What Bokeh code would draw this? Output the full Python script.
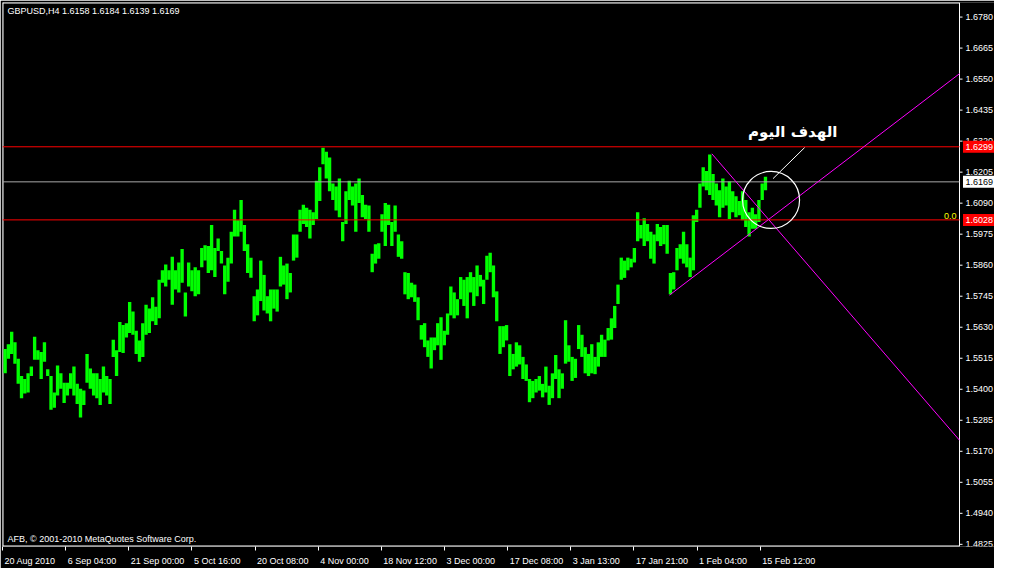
from bokeh.plotting import figure
from bokeh.models import FixedTicker, Label
from bokeh.core.properties import value
from bokeh.embed import file_html
from bokeh.resources import INLINE
import numpy as np

# ---------------- data ----------------
symbol = "GBPUSD,H4"
last_ohlc = [1.6158, 1.6184, 1.6139, 1.6169]
copyright_text = "AFB, \u00a9 2001-2010 MetaQuotes Software Corp."

# aggregated H4 bars (each ~3 H4 bars): highs and lows
highs = [
    1.5549, 1.5567, 1.5613, 1.5574, 1.5513, 1.5449, 1.5438, 1.5459, 1.5484, 1.5595,
    1.5545, 1.5538, 1.5574, 1.5474, 1.5449, 1.5388, 1.5488, 1.5459, 1.5424, 1.5424,
    1.5459, 1.5484, 1.5420, 1.5402, 1.5395, 1.5531, 1.5477, 1.5459, 1.5459, 1.5438,
    1.5484, 1.5449, 1.5438, 1.5584, 1.5545, 1.5649, 1.5638, 1.5645, 1.5724, 1.5688,
    1.5617, 1.5581, 1.5645, 1.5713, 1.5699, 1.5741, 1.5706, 1.5806, 1.5841, 1.5863,
    1.5841, 1.5891, 1.5841, 1.5870, 1.5920, 1.5759, 1.5870, 1.5841, 1.5852, 1.5841,
    1.5924, 1.5934, 1.5931, 1.6009, 1.5924, 1.5959, 1.5913, 1.5859, 1.5888, 1.5984,
    1.6066, 1.6027, 1.6102, 1.6009, 1.5938, 1.5888, 1.5745, 1.5770, 1.5877, 1.5824,
    1.5745, 1.5770, 1.5770, 1.5770, 1.5891, 1.5859, 1.5866, 1.5831, 1.5974, 1.5974,
    1.6066, 1.6084, 1.6073, 1.6066, 1.6056, 1.6173, 1.6223, 1.6295, 1.6281, 1.6259,
    1.6163, 1.6152, 1.6181, 1.6020, 1.6134, 1.6173, 1.6152, 1.6163, 1.6181, 1.6120,
    1.6084, 1.6081, 1.5902, 1.5938, 1.5941, 1.6049, 1.6091, 1.6084, 1.6020, 1.6081,
    1.5974, 1.5949, 1.5834, 1.5831, 1.5795, 1.5788, 1.5741, 1.5638, 1.5645, 1.5581,
    1.5592, 1.5592, 1.5645, 1.5667, 1.5617, 1.5681, 1.5781, 1.5759, 1.5734, 1.5816,
    1.5806, 1.5816, 1.5834, 1.5816, 1.5859, 1.5824, 1.5806, 1.5895, 1.5906, 1.5859,
    1.5763, 1.5634, 1.5634, 1.5638, 1.5567, 1.5531, 1.5574, 1.5563, 1.5520, 1.5492,
    1.5438, 1.5431, 1.5438, 1.5449, 1.5420, 1.5484, 1.5413, 1.5459, 1.5527, 1.5474,
    1.5459, 1.5656, 1.5563, 1.5520, 1.5513, 1.5638, 1.5602, 1.5556, 1.5531, 1.5567,
    1.5520, 1.5574, 1.5602, 1.5584, 1.5627, 1.5663, 1.5709, 1.5788, 1.5888, 1.5877,
    1.5888, 1.5884, 1.5924, 1.6056, 1.6009, 1.6034, 1.6013, 1.5984, 1.5974, 1.6013,
    1.6002, 1.6009, 1.6009, 1.5831, 1.5834, 1.5924, 1.5938, 1.5984, 1.5938, 1.5888,
    1.6045, 1.6066, 1.6163, 1.6223, 1.6209, 1.6270, 1.6198, 1.6163, 1.6138, 1.6181,
    1.6152, 1.6170, 1.6134, 1.6116, 1.6098, 1.6134, 1.6102, 1.6056, 1.6073, 1.6049,
    1.6102, 1.6163, 1.6188,
]
lows = [
    1.5459, 1.5513, 1.5531, 1.5495, 1.5420, 1.5367, 1.5384, 1.5388, 1.5449, 1.5509,
    1.5509, 1.5438, 1.5502, 1.5449, 1.5324, 1.5331, 1.5377, 1.5402, 1.5349, 1.5377,
    1.5402, 1.5377, 1.5345, 1.5295, 1.5342, 1.5424, 1.5402, 1.5377, 1.5367, 1.5342,
    1.5388, 1.5377, 1.5345, 1.5520, 1.5449, 1.5538, 1.5534, 1.5592, 1.5609, 1.5602,
    1.5531, 1.5502, 1.5520, 1.5602, 1.5609, 1.5652, 1.5638, 1.5663, 1.5795, 1.5781,
    1.5806, 1.5713, 1.5770, 1.5759, 1.5795, 1.5670, 1.5781, 1.5763, 1.5745, 1.5752,
    1.5852, 1.5877, 1.5831, 1.5841, 1.5816, 1.5913, 1.5866, 1.5752, 1.5799, 1.5866,
    1.5966, 1.5966, 1.5984, 1.5913, 1.5831, 1.5813, 1.5652, 1.5674, 1.5727, 1.5692,
    1.5681, 1.5652, 1.5699, 1.5688, 1.5781, 1.5788, 1.5734, 1.5759, 1.5877, 1.5888,
    1.5984, 1.6013, 1.6002, 1.5959, 1.6009, 1.6031, 1.6098, 1.6234, 1.6181, 1.6134,
    1.6102, 1.6063, 1.6038, 1.5949, 1.6013, 1.6102, 1.6081, 1.5984, 1.6091, 1.6038,
    1.6031, 1.5984, 1.5834, 1.5866, 1.5884, 1.5984, 1.5931, 1.6009, 1.5931, 1.5984,
    1.5891, 1.5884, 1.5752, 1.5734, 1.5741, 1.5724, 1.5656, 1.5584, 1.5556, 1.5520,
    1.5477, 1.5545, 1.5563, 1.5509, 1.5563, 1.5602, 1.5674, 1.5663, 1.5674, 1.5734,
    1.5709, 1.5663, 1.5759, 1.5709, 1.5745, 1.5781, 1.5716, 1.5806, 1.5834, 1.5741,
    1.5652, 1.5531, 1.5556, 1.5581, 1.5449, 1.5474, 1.5484, 1.5492, 1.5438, 1.5431,
    1.5352, 1.5367, 1.5388, 1.5395, 1.5370, 1.5388, 1.5342, 1.5367, 1.5438, 1.5367,
    1.5402, 1.5495, 1.5502, 1.5431, 1.5442, 1.5549, 1.5520, 1.5459, 1.5449, 1.5459,
    1.5456, 1.5484, 1.5520, 1.5520, 1.5581, 1.5584, 1.5627, 1.5716, 1.5806, 1.5813,
    1.5841, 1.5852, 1.5870, 1.5949, 1.5959, 1.5931, 1.5949, 1.5884, 1.5866, 1.5949,
    1.5931, 1.5938, 1.5902, 1.5752, 1.5770, 1.5841, 1.5884, 1.5866, 1.5852, 1.5816,
    1.5841, 1.6020, 1.6073, 1.6152, 1.6138, 1.6120, 1.6102, 1.6081, 1.6038, 1.6073,
    1.6081, 1.6031, 1.6056, 1.6038, 1.6045, 1.6027, 1.6002, 1.5966, 1.5995, 1.5995,
    1.6020, 1.6102, 1.6138,
]
first_bar, last_bar = 1, 775          # H4 bar index span of the data
chart_bars = 970                      # bars shown across the chart window (incl. shift)

date_labels = ["20 Aug 2010", "6 Sep 04:00", "21 Sep 00:00", "5 Oct 16:00",
               "20 Oct 08:00", "4 Nov 00:00", "18 Nov 12:00", "3 Dec 00:00",
               "17 Dec 08:00", "3 Jan 13:00", "17 Jan 21:00", "1 Feb 04:00",
               "15 Feb 12:00"]
date_label_bars = [0, 64, 128, 192, 256, 320, 384, 448, 512, 576, 640, 704, 768]

price_ticks = [1.4825, 1.4940, 1.5055, 1.5170, 1.5285, 1.5400, 1.5515, 1.5630,
               1.5745, 1.5860, 1.5975, 1.6090, 1.6205, 1.6320, 1.6435, 1.6550,
               1.6665, 1.6780]
price_min, price_max = 1.4817, 1.6834

resistance = 1.6299
support = 1.6028
bid = 1.6169
fib_label = "0.0"

trend_up_bars = [676, 970]
trend_up_prices = [1.5749, 1.6570]
trend_down_bars = [719, 970]
trend_down_prices = [1.6273, 1.5211]
target_bar, target_price = 779, 1.6102
pointer_bars = [781, 813]
pointer_prices = [1.6181, 1.6296]
note_text = "\u0627\u0644\u0647\u062f\u0641 \u0627\u0644\u064a\u0648\u0645"
note_bar, note_price = 801, 1.6354

# ---------------- figure ----------------
W, H = 994, 568
BL, BT = 2, 2
AXIS_PX = 35                         # width of the price scale strip
FONT = "Liberation Sans"
GREEN, RED, MAGENTA, BIDGREY = "#00FF00", "#FF0000", "#FF00FF", "#A8A8A8"

frame_w = W - BL
chart_px = frame_w - AXIS_PX
bpp = chart_bars / chart_px          # bars per screen pixel
x_end = frame_w * bpp

p = figure(width=W, height=H, output_backend="svg", toolbar_location=None,
           x_range=(0, x_end), y_range=(price_min, price_max),
           min_border_left=BL, min_border_top=BT, min_border_right=0,
           min_border_bottom=17,
           background_fill_color="black", border_fill_color="black")
p.xgrid.visible = False
p.ygrid.visible = False
p.yaxis.visible = False
p.outline_line_color = None

# chart frame (left, top, bottom) and price-scale line
p.segment(x0=[0, 0, 0], y0=[price_min, price_max, price_min],
          x1=[0, chart_bars, chart_bars], y1=[price_max, price_max, price_min],
          line_color="white", line_width=2)
p.segment(x0=[chart_bars], y0=[price_min], x1=[chart_bars], y1=[price_max],
          line_color="white", line_width=1)

# bars
n = len(highs)
step = (last_bar - first_bar) / n
xs = first_bar + step * (np.arange(n) + 0.5)
p.vbar(x=xs, top=highs, bottom=lows, width=step * 1.02,
       fill_color=GREEN, line_color=None)

# horizontal levels (stop at the price scale)
p.segment(x0=[0, 0], y0=[resistance, support], x1=[chart_bars, chart_bars],
          y1=[resistance, support], line_color=RED, line_width=1)
p.segment(x0=[0], y0=[bid], x1=[chart_bars], y1=[bid], line_color=BIDGREY, line_width=1)

# trend lines
p.line(trend_up_bars, trend_up_prices, line_color=MAGENTA, line_width=1)
p.line(trend_down_bars, trend_down_prices, line_color=MAGENTA, line_width=1)

# target circle and pointer
p.scatter([target_bar], [target_price], marker="circle", size=57,
          fill_color=None, line_color="white", line_width=1.2)
p.line(pointer_bars, pointer_prices, line_color="white", line_width=1)
p.text(x=[note_bar], y=[note_price], text=[note_text],
       text_align="center", text_baseline="middle",
       text_font=value("DejaVu Sans"), text_font_style="bold",
       text_font_size=value("15px"), text_color="white")

# price scale: ticks and labels
p.segment(x0=[chart_bars] * len(price_ticks), y0=price_ticks,
          x1=[chart_bars + 3 * bpp] * len(price_ticks), y1=price_ticks,
          line_color="white", line_width=1)
p.text(x=[chart_bars + 6 * bpp] * len(price_ticks), y=price_ticks,
       text=["%.4f" % v for v in price_ticks],
       text_align="left", text_baseline="middle",
       text_font=value(FONT), text_font_size=value("9px"), text_color="white")

# price boxes on the scale
box_vals = [resistance, support, bid]
box_bg = [RED, RED, "white"]
box_fg = ["white", "white", "black"]
p.rect(x=[chart_bars + 20 * bpp] * 3, y=box_vals, width=33, height=12,
       width_units="screen", height_units="screen",
       fill_color=box_bg, line_color=None)
p.text(x=[chart_bars + 6 * bpp] * 3, y=box_vals, text=["%.4f" % v for v in box_vals],
       text_align="left", text_baseline="middle",
       text_font=value(FONT), text_font_size=value("9px"), text_color=box_fg)

# bottom (time) axis: labels left-aligned at the tick marks
char_w = {" ": 0.278, ":": 0.278, "A": 0.667, "u": 0.556, "g": 0.556, "S": 0.667,
          "e": 0.556, "p": 0.556, "O": 0.778, "c": 0.5, "t": 0.278, "N": 0.722,
          "o": 0.556, "v": 0.5, "D": 0.722, "J": 0.5, "a": 0.556, "n": 0.556,
          "F": 0.611, "b": 0.556}
centers = []
for b, lab in zip(date_label_bars, date_labels):
    wpx = sum(char_w.get(c, 0.556) for c in lab) * 9
    centers.append(b + (wpx / 2 + 2) * bpp)
xax = p.xaxis[0]
xax.ticker = FixedTicker(ticks=centers, minor_ticks=date_label_bars)
xax.major_label_overrides = {c: lab for c, lab in zip(centers, date_labels)}
xax.axis_line_color = None
xax.major_tick_line_color = None
xax.minor_tick_line_color = "white"
xax.minor_tick_in = 0
xax.minor_tick_out = 4
xax.major_label_text_color = "white"
xax.major_label_text_font = FONT
xax.major_label_text_font_size = "9px"
xax.major_label_standoff = 3

# fibo level label
p.add_layout(Label(x=chart_bars, y=support, text=fib_label, x_offset=-3, y_offset=1,
                   text_align="right", text_baseline="bottom",
                   text_font=FONT, text_font_size="9px", text_color="#FFFF00"))

# header and footer
header = symbol + "  " + " ".join("%.4f" % v for v in last_ohlc)
p.add_layout(Label(x=0, y=price_max, text=header, x_offset=5, y_offset=-3,
                   text_align="left", text_baseline="top",
                   text_font=FONT, text_font_size="9px", text_color="white"))
p.add_layout(Label(x=0, y=price_min, text=copyright_text, x_offset=5, y_offset=3,
                   text_align="left", text_baseline="bottom",
                   text_font=FONT, text_font_size="9px", text_color="white"))

open("out.html", "w").write(file_html(p, INLINE))
